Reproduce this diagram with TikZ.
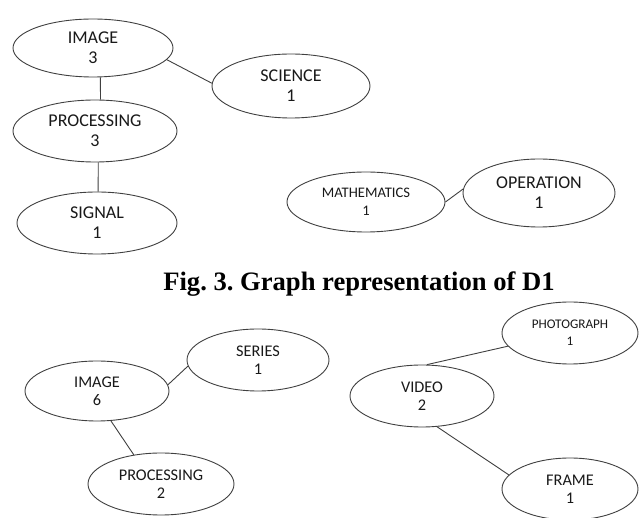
\documentclass[tikz,border=0pt]{standalone}
\usepackage{fontspec}
\setmainfont{Carlito}
\newfontfamily\capfont{Liberation Serif}
\usetikzlibrary{shapes.geometric}
\frenchspacing
\begin{document}
\begin{tikzpicture}[x=1pt,y=-1pt,
  ell/.style={draw=black!75, line width=0.9pt, ellipse, inner sep=0pt, align=center, text=black!90},
  big/.style={font=\fontsize{18}{20}\selectfont},
  mid/.style={font=\fontsize{16.3}{18}\selectfont},
  small/.style={font=\fontsize{14.6}{18}\selectfont},
  tiny/.style={font=\fontsize{13.2}{17}\selectfont},
  conn/.style={draw=black!75, line width=0.9pt}]
\useasboundingbox (0,0) rectangle (641,518);
\fill[white] (0,0) rectangle (641,518);
% top graph
\node[ell,big,minimum width=160,minimum height=58] (img3) at (93,48) {IMAGE\\3};
\node[ell,big,minimum width=158,minimum height=64] (sci) at (291,86) {SCIENCE\\1};
\node[ell,big,minimum width=164,minimum height=62] (proc3) at (95,131) {PROCESSING\\3};
\node[ell,big,minimum width=160,minimum height=62] (sig) at (97,223) {SIGNAL\\1};
\node[ell,small,minimum width=158,minimum height=60] (math) at (366,202) {MATHEMATICS\\1};
\node[ell,big,minimum width=152,minimum height=68] (oper) at (539,193) {OPERATION\\1};
\draw[conn] (img3.-9.5) -- (sci.178);
\draw[conn] (img3.-76.4) -- (proc3.80.8);
\draw[conn] (proc3.-84.5) -- (sig.88);
\draw[conn] (math.0) -- (oper.177);
% caption
\node[anchor=base, inner sep=0pt, font=\capfont\bfseries\fontsize{26.6}{30}\selectfont] (cap) at (359,291) {Fig. 3. Graph representation of D1};
% bottom graph
\node[ell,mid,minimum width=144,minimum height=60] (img6) at (97,391) {IMAGE\\6};
\node[ell,mid,minimum width=142,minimum height=62] (ser) at (258,360) {SERIES\\1};
\node[ell,mid,minimum width=146,minimum height=62] (proc2) at (161,484) {PROCESSING\\2};
\node[ell,tiny,minimum width=136,minimum height=62] (photo) at (570,333) {PHOTOGRAPH\\1};
\node[ell,mid,minimum width=144,minimum height=62] (video) at (422,396) {VIDEO\\2};
\node[ell,mid,minimum width=136,minimum height=62] (frame) at (570,489) {FRAME\\1};
\draw[conn] (img6.5) -- (ser.185);
\draw[conn] (img6.-65) -- (proc2.133);
\draw[conn] (video.81) -- (photo.192.5);
\draw[conn] (video.-64) -- (frame.167.5);
\end{tikzpicture}
\end{document}
